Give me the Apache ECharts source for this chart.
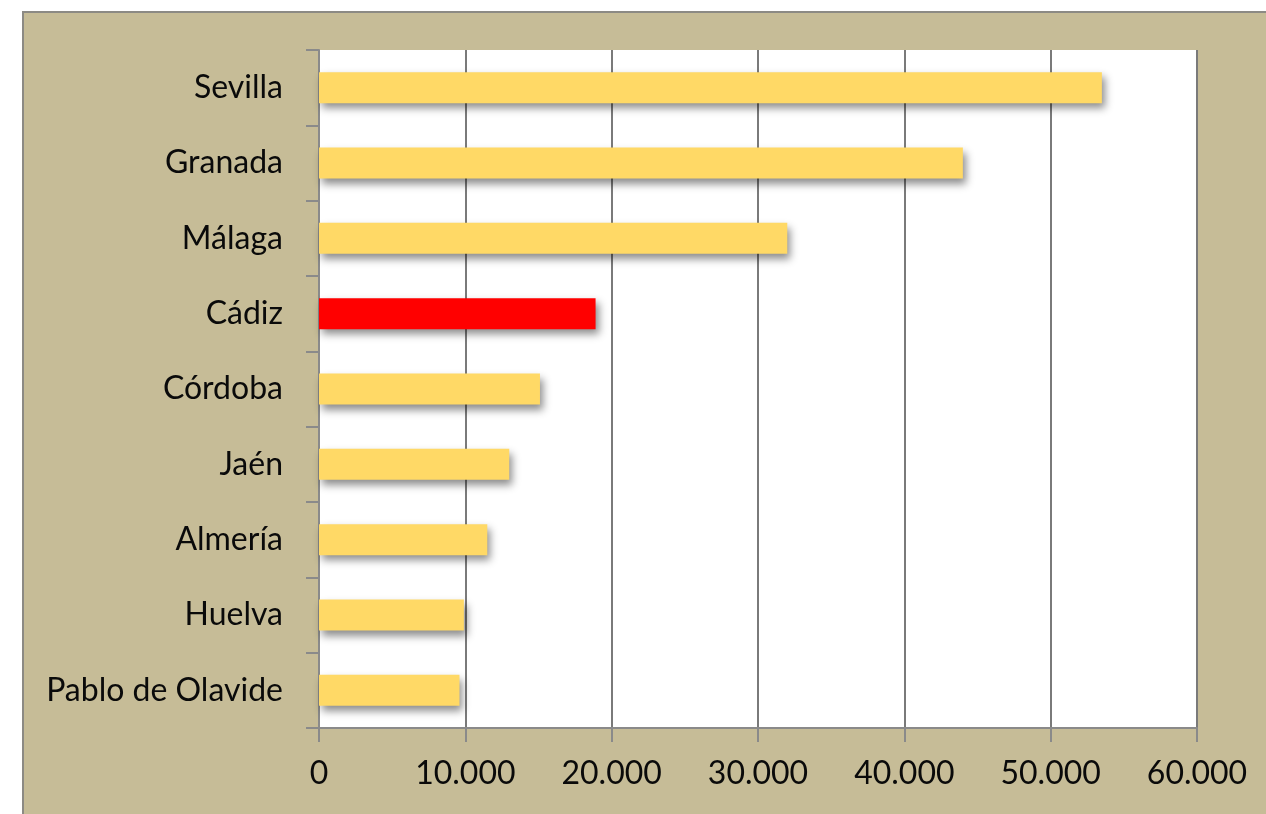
<!DOCTYPE html>
<html>
<head>
<meta charset="utf-8">
<script src="https://cdn.jsdelivr.net/npm/echarts@6/dist/echarts.min.js"></script>
<style>
  html, body { margin: 0; padding: 0; background: #ffffff; }
  #frame { position: absolute; left: 22px; top: 11px; width: 1250px; height: 810px;
           background: #C6BC97; border-left: 2px solid #8c8a84; border-top: 2px solid #8c8a84; }
  #chart { position: absolute; left: 0; top: 0; width: 1266px; height: 814px; }
</style>
</head>
<body>
<div id="frame"></div>
<div id="chart"></div>
<script>
const categories = ["Sevilla", "Granada", "Málaga", "Cádiz", "Córdoba", "Jaén", "Almería", "Huelva", "Pablo de Olavide"];
const values = [53500, 44000, 32000, 18900, 15100, 13000, 11500, 9900, 9600];
const highlight = "Cádiz";
const xTicks = [0, 10000, 20000, 30000, 40000, 50000, 60000];

const chart = echarts.init(document.getElementById('chart'), null, { renderer: 'canvas' });
const fmt = v => v === 0 ? '0' : String(v).replace(/\B(?=(\d{3})+(?!\d))/g, '.');

chart.setOption({
  animation: false,
  backgroundColor: 'transparent',
  grid: {
    left: 319, top: 50, right: 69, bottom: 86,
    show: true, backgroundColor: '#ffffff', borderWidth: 0
  },
  xAxis: {
    type: 'value',
    min: xTicks[0], max: xTicks[xTicks.length - 1], interval: 10000,
    axisLine: { show: true, lineStyle: { color: '#8a8a8a', width: 2 } },
    axisTick: { show: true, length: 14, lineStyle: { color: '#8a8a8a', width: 2 } },
    splitLine: { show: true, lineStyle: { color: '#7a7a7a', width: 2 } },
    axisLabel: { formatter: fmt, fontFamily: 'Lato', fontSize: 32, color: '#0a0a0a', margin: 30 }
  },
  yAxis: {
    type: 'category',
    data: categories,
    inverse: true,
    axisLine: { show: true, lineStyle: { color: '#8a8a8a', width: 2 } },
    axisTick: { show: true, length: 13, lineStyle: { color: '#8a8a8a', width: 2 } },
    axisLabel: { fontFamily: 'Lato', fontSize: 32, color: '#0a0a0a', margin: 36 },
    splitLine: { show: false }
  },
  series: [{
    type: 'bar',
    barWidth: 31,
    data: values.map((v, i) => ({
      value: v,
      itemStyle: { color: categories[i] === highlight ? '#FF0000' : '#FFD966' }
    })),
    itemStyle: {
      shadowBlur: 8, shadowOffsetX: 3, shadowOffsetY: 5, shadowColor: 'rgba(0,0,0,0.45)'
    }
  }]
});
</script>
</body>
</html>
